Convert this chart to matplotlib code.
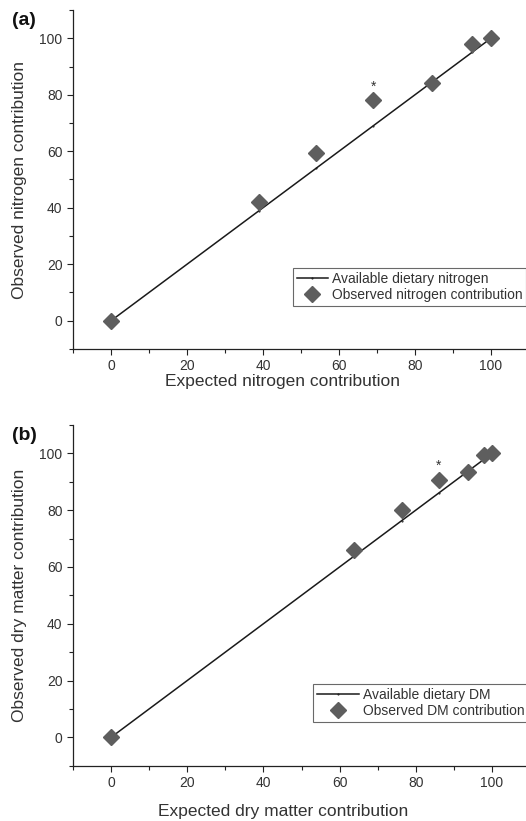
import matplotlib
matplotlib.use('Agg')
import matplotlib.pyplot as plt
from matplotlib.ticker import MultipleLocator

plt.rcParams['font.family'] = ['Liberation Sans', 'DejaVu Sans']

# panel (a): nitrogen
n_expected = [0, 39, 54, 69, 84.5, 95, 100]
n_observed = [0, 42, 59.5, 78, 84, 98, 100]
n_star = 69  # expected value of the starred point

# panel (b): dry matter
dm_expected = [0, 63.7, 76.3, 86, 93.7, 97.8, 100]
dm_observed = [0, 66, 80, 90.6, 93.5, 99.4, 100]
dm_star = 86

panels = [
    ('(a)', n_expected, n_observed, n_star, 'Available dietary nitrogen',
     'Observed nitrogen contribution', 'Expected nitrogen contribution',
     'Observed nitrogen contribution', [73/526, 1-349/821, 456/526, 339/821],
     -0.074, 0.482, 2.2),
    ('(b)', dm_expected, dm_observed, dm_star, 'Available dietary DM',
     'Observed DM contribution', 'Expected dry matter contribution',
     'Observed dry matter contribution', [73/526, 1-765.7/821, 457/526, 340.7/821],
     -0.113, 0.525, 3.0),
]

txt = '#333333'
fig = plt.figure(figsize=(5.26, 8.21), dpi=100)

for tag, xe, yo, star, line_lab, pt_lab, xlab, ylab, pos, xlab_y, leg_x, hl in panels:
    ax = fig.add_axes(pos)
    ax.plot(xe, xe, color='#1a1a1a', lw=1.1, marker='.', markersize=1, label=line_lab)
    ax.plot(xe, yo, ls='none', marker='D', markersize=8, color='#5e5e5e',
            markeredgecolor='#5e5e5e', label=pt_lab)
    i = xe.index(star)
    ax.annotate('*', (xe[i], yo[i]), xytext=(0, 5), textcoords='offset points',
                ha='center', va='bottom', fontsize=10, color=txt)
    ax.set_xlim(-10, 110)
    ax.set_ylim(-10, 110)
    ax.xaxis.set_minor_locator(MultipleLocator(10))
    ax.yaxis.set_minor_locator(MultipleLocator(10))
    ax.set_xticks([0, 20, 40, 60, 80, 100])
    ax.set_yticks([0, 20, 40, 60, 80, 100])
    ax.tick_params(which='major', direction='out', length=4, width=0.8,
                   labelsize=10, colors='#222222', labelcolor=txt)
    ax.tick_params(which='minor', direction='out', length=3, width=0.8, colors='#222222')
    for s in ['top', 'right']:
        ax.spines[s].set_visible(False)
    for s in ['left', 'bottom']:
        ax.spines[s].set_linewidth(0.9)
        ax.spines[s].set_color('#222222')
    ax.set_xlabel(xlab, fontsize=12.5, color=txt)
    ax.xaxis.set_label_coords(0.46, xlab_y)
    ax.set_ylabel(ylab, fontsize=12.5, color=txt)
    ax.yaxis.set_label_coords(-0.10, 0.5)
    leg = ax.legend(loc='upper left', bbox_to_anchor=(leg_x, 0.24),
                    fontsize=10, frameon=True, fancybox=False, borderpad=0.3,
                    handlelength=hl, handletextpad=0.3,
                    labelspacing=0.15, borderaxespad=0)
    leg.get_frame().set_edgecolor('#444444')
    leg.get_frame().set_linewidth(0.8)
    for t in leg.get_texts():
        t.set_color(txt)
    fig.text(12/526, pos[1] + pos[3] - 0.003, tag, fontsize=14, fontweight='bold',
             color='#111111', va='top')

fig.savefig('out.png', dpi=100)
